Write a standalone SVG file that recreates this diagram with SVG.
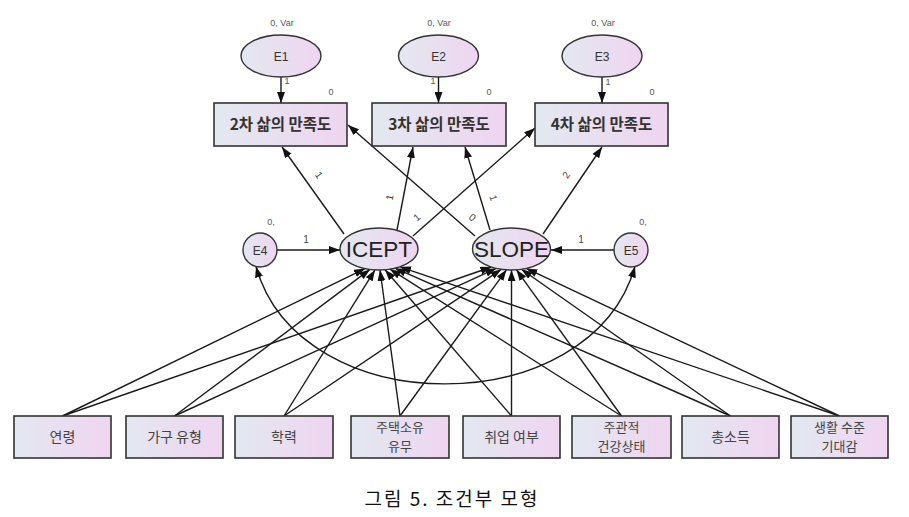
<svg xmlns="http://www.w3.org/2000/svg" width="909" height="517" viewBox="0 0 909 517">
<defs>
<linearGradient id="g" x1="0" y1="0" x2="1" y2="0">
<stop offset="0" stop-color="#e3e8f0"/>
<stop offset="1" stop-color="#efd5f0"/>
</linearGradient>
<marker id="ah" markerUnits="userSpaceOnUse" markerWidth="11" markerHeight="8" refX="11" refY="4" orient="auto-start-reverse">
<path d="M0,0 L11,4 L0,8 z" fill="#111"/>
</marker>
<style>
.box{fill:url(#g);stroke:#333;stroke-width:1.6}
.ell{fill:url(#g);stroke:#333;stroke-width:1.4}
.ln{fill:none;stroke:#1a1a1a;stroke-width:1.4;marker-end:url(#ah)}
.tb{font-family:"Noto Sans CJK KR","Liberation Sans",sans-serif;font-size:15.5px;font-weight:bold;fill:#333;text-anchor:middle}
.bb{font-family:"Noto Sans CJK KR","Liberation Sans",sans-serif;font-size:14px;fill:#444;text-anchor:middle}
.b2{font-family:"Noto Sans CJK KR","Liberation Sans",sans-serif;font-size:13px;fill:#444;text-anchor:middle}
.el{font-family:"Liberation Sans",Arial,sans-serif;font-size:12px;fill:#333;text-anchor:middle}
.big{font-family:"Liberation Sans",Arial,sans-serif;font-size:22.5px;fill:#222;text-anchor:middle}
.sm{font-family:"Liberation Sans",Arial,sans-serif;font-size:9px;fill:#555;text-anchor:middle}
.pl{font-family:"Liberation Sans",Arial,sans-serif;font-size:10px;fill:#444;text-anchor:middle}
.cap{font-family:"Noto Sans CJK KR","Liberation Sans",sans-serif;font-size:19px;fill:#111;text-anchor:middle;letter-spacing:2px}
</style>
</defs>
<rect width="909" height="517" fill="#fff"/>

<g id="connectors">
<path class="ln" d="M281,77 L281,103"/>
<path class="ln" d="M438.5,77 L438.5,103"/>
<path class="ln" d="M602,77 L602,103"/>
<path class="ln" d="M344,234 L282,147"/>
<path class="ln" d="M397,230 L413,147"/>
<path class="ln" d="M413,236 L535,128"/>
<path class="ln" d="M475,236 L348,125"/>
<path class="ln" d="M490,230 L465,147"/>
<path class="ln" d="M543,234 L602,147"/>
<path class="ln" d="M277,250 L340,250"/>
<path class="ln" d="M614,250 L551,250"/>
<path class="ln" d="M256,266.5 C300,423 590,423 635,266.5" style="marker-start:url(#ah)"/>
<path class="ln" d="M62.5,416 L365,268.6"/>
<path class="ln" d="M174.5,416 L370,269.4"/>
<path class="ln" d="M284,416 L375,269.9"/>
<path class="ln" d="M400,416 L380,270"/>
<path class="ln" d="M511.5,416 L385,269.7"/>
<path class="ln" d="M621.5,416 L390,269.2"/>
<path class="ln" d="M730.5,416 L395,268.2"/>
<path class="ln" d="M839.5,416 L400,266.8"/>
<path class="ln" d="M62.5,416 L491.3,267"/>
<path class="ln" d="M174.5,416 L496.3,268.3"/>
<path class="ln" d="M284,416 L501.3,269.3"/>
<path class="ln" d="M400,416 L506.5,269.8"/>
<path class="ln" d="M511.5,416 L511.5,270"/>
<path class="ln" d="M621.5,416 L516.5,269.8"/>
<path class="ln" d="M730.5,416 L521.4,269.3"/>
<path class="ln" d="M839.5,416 L526.3,268.4"/>
<text class="sm" x="287" y="84">1</text>
<text class="sm" x="433" y="84">1</text>
<text class="sm" x="608" y="85">1</text>
<text class="pl" transform="translate(316,177) rotate(54.5)">1</text>
<text class="pl" transform="translate(393,198) rotate(-79)">1</text>
<text class="pl" transform="translate(419,220) rotate(-41.5)">1</text>
<text class="pl" transform="translate(470,220) rotate(41)">0</text>
<text class="pl" transform="translate(490,199) rotate(73)">1</text>
<text class="pl" transform="translate(569,177) rotate(-55.5)">2</text>
<text class="pl" x="306" y="243">1</text>
<text class="pl" x="581" y="243">1</text>
</g>

<g id="E1"><ellipse class="ell" cx="281" cy="56" rx="40" ry="21"/><text class="el" x="281" y="60.5">E1</text><text class="sm" x="282" y="26">0, Var</text></g>
<g id="E2"><ellipse class="ell" cx="438.5" cy="56" rx="40" ry="21"/><text class="el" x="438.5" y="60.5">E2</text><text class="sm" x="439" y="26">0, Var</text></g>
<g id="E3"><ellipse class="ell" cx="602" cy="56" rx="40" ry="21"/><text class="el" x="602" y="60.5">E3</text><text class="sm" x="603" y="26">0, Var</text></g>

<g id="Y2"><rect class="box" x="214" y="103" width="133" height="43"/><text class="tb" x="280.5" y="130">2차 삶의 만족도</text><text class="sm" x="331" y="95">0</text></g>
<g id="Y3"><rect class="box" x="372" y="103" width="134" height="43"/><text class="tb" x="439" y="130">3차 삶의 만족도</text><text class="sm" x="489" y="95">0</text></g>
<g id="Y4"><rect class="box" x="535" y="103" width="133" height="43"/><text class="tb" x="601.5" y="130">4차 삶의 만족도</text><text class="sm" x="652" y="95">0</text></g>

<g id="E4"><circle class="ell" cx="260" cy="250" r="17"/><text class="el" x="260" y="254.5">E4</text><text class="sm" x="271" y="225">0,</text></g>
<g id="ICEPT"><ellipse class="ell" cx="379" cy="249" rx="39" ry="21"/><text class="big" x="379" y="257">ICEPT</text></g>
<g id="SLOPE"><ellipse class="ell" cx="511.5" cy="249" rx="39" ry="21"/><text class="big" x="511.5" y="257">SLOPE</text></g>
<g id="E5"><circle class="ell" cx="631" cy="250" r="17"/><text class="el" x="631" y="254.5">E5</text><text class="sm" x="643" y="225">0,</text></g>

<g id="X1"><rect class="box" x="14" y="416" width="97" height="42"/><text class="bb" x="62.5" y="442">연령</text></g>
<g id="X2"><rect class="box" x="126" y="416" width="97" height="42"/><text class="bb" x="174.5" y="442">가구 유형</text></g>
<g id="X3"><rect class="box" x="235" y="416" width="98" height="42"/><text class="bb" x="284" y="442">학력</text></g>
<g id="X4"><rect class="box" x="351" y="416" width="98" height="42"/><text class="b2" x="400" y="432">주택소유</text><text class="b2" x="400" y="451">유무</text></g>
<g id="X5"><rect class="box" x="463" y="416" width="97" height="42"/><text class="bb" x="511.5" y="442">취업 여부</text></g>
<g id="X6"><rect class="box" x="572" y="416" width="99" height="42"/><text class="b2" x="621.5" y="432">주관적</text><text class="b2" x="621.5" y="451">건강상태</text></g>
<g id="X7"><rect class="box" x="682" y="416" width="97" height="42"/><text class="bb" x="730.5" y="442">총소득</text></g>
<g id="X8"><rect class="box" x="791" y="416" width="97" height="42"/><text class="b2" x="839.5" y="432">생활 수준</text><text class="b2" x="839.5" y="451">기대감</text></g>

<text class="cap" x="452" y="506">그림 5. 조건부 모형</text>
</svg>
